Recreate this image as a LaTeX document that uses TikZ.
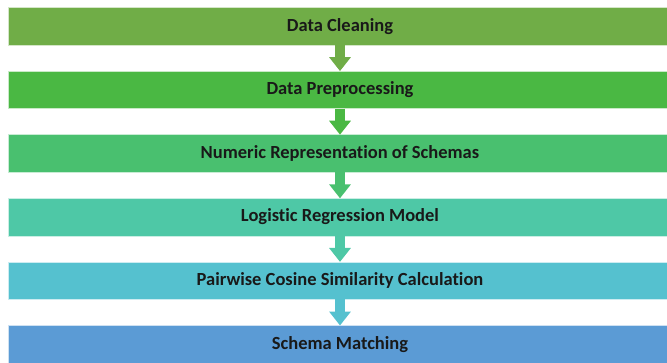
\documentclass[tikz,border=0pt]{standalone}
\usepackage{fontspec}
\setmainfont{Carlito}[Ligatures=NoCommon]
\usetikzlibrary{positioning,arrows.meta}

\definecolor{stepA}{HTML}{70AD47}
\definecolor{stepB}{HTML}{4AB843}
\definecolor{stepC}{HTML}{49C06F}
\definecolor{stepD}{HTML}{4EC8A6}
\definecolor{stepE}{HTML}{55C1CF}
\definecolor{stepF}{HTML}{5B9BD5}

\tikzset{
stagebox/.style={
  minimum width=664pt,
  minimum height=37.5pt,
  inner sep=0pt,
  outer sep=0pt,
  rectangle,
  draw=white!70!#1,
  line width=.6pt,
  fill=#1,
  font=\fontsize{18.5}{22}\selectfont\bfseries,
  text=black!90,
},
flow/.style={
  draw=#1,
  line width=9.5pt,
  -{Triangle[width=21pt,length=14pt]},
},
node distance=26.1pt,
}

\begin{document}
\begin{tikzpicture}
\useasboundingbox (0pt,0pt) rectangle (667pt,-362pt);
% stages, top to bottom
\node[stagebox=stepA] (clean) at (340pt,-26.25pt) {Data Cleaning};
\node[stagebox=stepB, below=of clean] (prep) {Data Preprocessing};
\node[stagebox=stepC, below=of prep] (numrep) {Numeric Representation of Schemas};
\node[stagebox=stepD, below=of numrep] (logreg) {Logistic Regression Model};
\node[stagebox=stepE, below=of logreg] (cosine) {Pairwise Cosine Similarity Calculation};
\node[stagebox=stepF, below=of cosine] (match) {Schema Matching};
% connectors
\draw[flow=stepA] (clean.south) -- (prep.north);
\draw[flow=stepB] (prep.south) -- (numrep.north);
\draw[flow=stepC] (numrep.south) -- (logreg.north);
\draw[flow=stepD] (logreg.south) -- (cosine.north);
\draw[flow=stepE] (cosine.south) -- (match.north);
\end{tikzpicture}
\end{document}
